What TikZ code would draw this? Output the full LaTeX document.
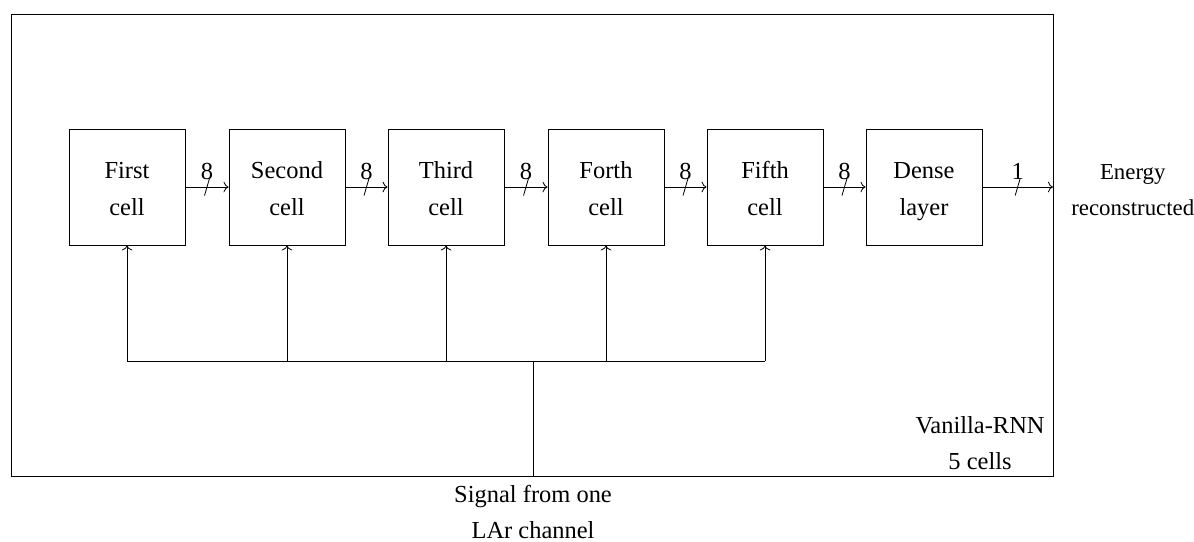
\documentclass[tikz,border=0pt]{standalone}
\usepackage{fontspec}
\setmainfont{Liberation Serif}
\usepackage{tikz}
\usetikzlibrary{arrows.meta,positioning}

\newcommand\cellstrut{\rule[-3.2pt]{0pt}{16.2pt}}
\tikzset{
  cellbox/.style={draw, minimum width=2cm, minimum height=2cm, align=center, inner sep=0pt},
  txt/.style={align=center, font=\fontsize{12}{17.7}\selectfont}
}

\begin{document}
\begin{tikzpicture}[every node/.style={font=\fontsize{12}{17.7}\selectfont}]
  \useasboundingbox (0,0) rectangle (20.586,-9.328);
  % outer frame
  \draw (0.19,-0.241) rectangle (18.155,-8.207);

  \node[cellbox] (first) at (2.19, -3.224) {\cellstrut First\\\cellstrut cell};
  \node[cellbox] (second) at (4.948, -3.224) {\cellstrut Second\\\cellstrut cell};
  \node[cellbox] (third) at (7.69, -3.224) {\cellstrut Third\\\cellstrut cell};
  \node[cellbox] (forth) at (10.448, -3.224) {\cellstrut Forth\\\cellstrut cell};
  \node[cellbox] (fifth) at (13.19, -3.224) {\cellstrut Fifth\\\cellstrut cell};
  \node[cellbox] (dense) at (15.93, -3.224) {\cellstrut Dense\\\cellstrut layer};

  \coordinate (out) at (18.155, -3.224);
  \node[txt, font=\fontsize{11.2}{17.7}\selectfont] (energy) at (19.53, -3.285) {Energy\strut\\reconstructed\strut};
  \node[txt] (rnn) at (16.897, -7.655) {Vanilla-RNN\strut\\5 cells\strut};
  \node[txt] (signal) at (9.19, -8.85) {Signal from one\strut\\LAr channel\strut};

  \draw[->] (first) -- (second) node[midway, above] {8} node[midway] (m1) {};
  \draw[->] (second) -- (third) node[midway, above] {8} node[midway] (m2) {};
  \draw[->] (third) -- (forth) node[midway, above] {8} node[midway] (m3) {};
  \draw[->] (forth) -- (fifth) node[midway, above] {8} node[midway] (m4) {};
  \draw[->] (fifth) -- (dense) node[midway, above] {8} node[midway] (m5) {};
  \draw[->] (dense) -- (out) node[midway, above] {1} node[midway] (m6) {};
  % bus width marks
  \foreach \m in {m1,m2,m3,m4,m5,m6}
    \draw ([xshift=-0.043cm, yshift=-0.147cm]\m.center) -- ([xshift=0.043cm, yshift=0.147cm]\m.center);

  % input bus
  \coordinate (in) at (9.19, -8.207);
  \coordinate (bus) at (9.19, -6.224);
  \draw (in) -- (bus);
  \draw (first.south |- bus) -- (fifth.south |- bus);
  \draw[->] (first.south |- bus) -- (first.south);
  \draw[->] (second.south |- bus) -- (second.south);
  \draw[->] (third.south |- bus) -- (third.south);
  \draw[->] (forth.south |- bus) -- (forth.south);
  \draw[->] (fifth.south |- bus) -- (fifth.south);
\end{tikzpicture}
\end{document}
